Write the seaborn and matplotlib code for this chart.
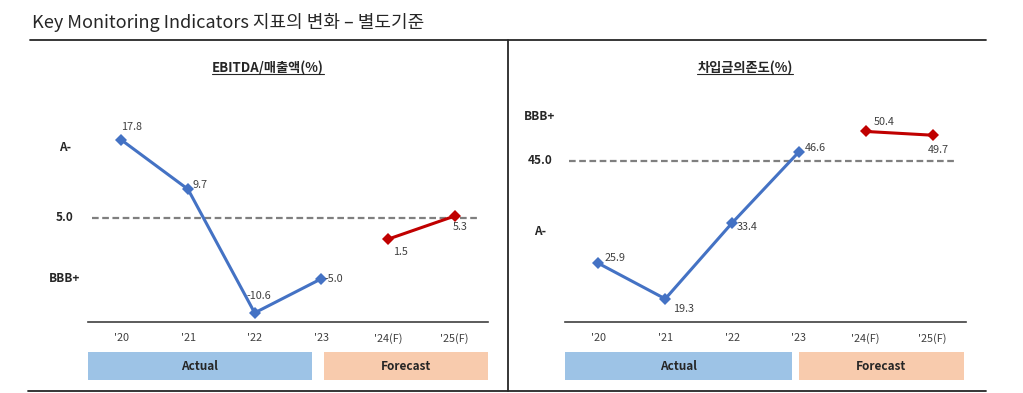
import numpy as np
import pandas as pd
import seaborn as sns
import matplotlib.pyplot as plt
from matplotlib.patches import Rectangle
from matplotlib.lines import Line2D
import matplotlib.transforms as mtransforms

sns.set_style("white")
plt.rcParams['font.family'] = ['Noto Sans CJK KR', 'DejaVu Sans']

# %%
years = ["'20", "'21", "'22", "'23", "'24(F)", "'25(F)"]
phase = ['Actual', 'Actual', 'Actual', 'Actual', 'Forecast', 'Forecast']

ebitda_margin = [17.8, 9.7, -10.6, -5.0, 1.5, 5.3]
ebitda_threshold = 5.0
ebitda_grades = ['A-', 'BBB+']
ebitda_grade_y = [16.5, -4.9]

debt_ratio = [25.9, 19.3, 33.4, 46.6, 50.4, 49.7]
debt_threshold = 45.0
debt_grades = ['BBB+', 'A-']
debt_grade_y = [53.1, 31.9]

# label offsets (points) for each value label
ebitda_offsets = [(7, 9), (9, 3), (3, 12), (9, 0), (9, -9), (4, -8)]
debt_offsets = [(12, 4), (13, -7), (11, -3), (12, 3), (13, 7), (4, -11)]

W, H = 1023, 393
fig = plt.figure(figsize=(W / 100, H / 100), dpi=100)


def px_axes(x0, y0, x1, y1):
    # axes from pixel box (top-left origin)
    return fig.add_axes([x0 / W, 1 - y1 / H, (x1 - x0) / W, (y1 - y0) / H])


pal = {'Actual': '#4472C4', 'Forecast': '#C00000'}


def draw_panel(ax, values, thr, grades, grade_y, offsets, ylim, title, title_x,
               grade_x, box_split):
    df = pd.DataFrame({'pos': np.arange(len(years)), 'value': values,
                       'phase': phase})
    sns.lineplot(data=df, x='pos', y='value', hue='phase', palette=pal,
                 marker='D', markersize=6, markeredgewidth=0, linewidth=2.2,
                 legend=False, ax=ax)
    ax.set_xlim(-0.5, 5.5)
    ax.set_ylim(*ylim)
    ax.axhline(thr, xmin=0.01, xmax=0.975, color='#7F7F7F', ls=(0, (3, 1.6)),
               lw=1.6, zorder=0)
    for i, (v, off) in enumerate(zip(values, offsets)):
        ax.annotate(f'{v:.1f}', (i, v), xytext=off, textcoords='offset points',
                    ha='center', va='center', fontsize=7.8, color='#404040')
    ax.set_xticks(range(len(years)))
    ax.set_xticklabels(years, fontsize=7.8, color='#404040')
    ax.tick_params(axis='x', length=0, pad=8)
    ax.set_yticks([])
    ax.set_xlabel('')
    ax.set_ylabel('')
    for s in ['top', 'left', 'right']:
        ax.spines[s].set_visible(False)
    ax.spines['bottom'].set_color('#404040')
    ax.spines['bottom'].set_linewidth(1.2)

    # rating labels on the left
    tr = mtransforms.blended_transform_factory(fig.transFigure, ax.transData)
    for g, gy in zip(grades, grade_y):
        ax.text(grade_x / W, gy, g, transform=tr, ha='center', va='center',
                fontsize=8.5, fontweight='bold', clip_on=False)
    ax.text(grade_x / W, thr, f'{thr:.1f}', transform=tr, ha='center',
            va='center', fontsize=8.5, fontweight='bold', clip_on=False)

    # Actual / Forecast boxes under the axis
    bt = mtransforms.blended_transform_factory(ax.transData, ax.transAxes)
    y0 = -(352 - 322) / 232
    hgt = -(380 - 352) / 232
    ax.add_patch(Rectangle((-0.5, y0), box_split[0] + 0.5, hgt, transform=bt,
                           facecolor='#9DC3E6', edgecolor='none', clip_on=False))
    ax.add_patch(Rectangle((box_split[1], y0), box_split[2] - box_split[1], hgt,
                           transform=bt, facecolor='#F8CBAD', edgecolor='none',
                           clip_on=False))
    ax.text((box_split[0] - 0.5) / 2, y0 + hgt / 2, 'Actual', transform=bt,
            ha='center', va='center', fontsize=8.5, fontweight='bold')
    ax.text((box_split[1] + box_split[2]) / 2, y0 + hgt / 2, 'Forecast',
            transform=bt, ha='center', va='center', fontsize=8.5,
            fontweight='bold')

    t = fig.text(title_x / W, 1 - 68 / H, title, ha='center', va='center',
                 fontsize=9.5, fontweight='bold', color='#262626')
    return t


ax1 = px_axes(88, 90, 488, 322)
t1 = draw_panel(ax1, ebitda_margin, ebitda_threshold, ebitda_grades,
                ebitda_grade_y, ebitda_offsets, (-12.1, 26.0),
                'EBITDA/매출액(%)', 268, 65, (2.86, 3.04, 5.5))

ax2 = px_axes(565, 90, 966, 322)
t2 = draw_panel(ax2, debt_ratio, debt_threshold, debt_grades, debt_grade_y,
                debt_offsets, (15.0, 58.1), '차입금의존도(%)', 745, 540,
                (2.89, 3.0, 5.47))

# main title and frame lines
fig.text(32 / W, 1 - 23 / H, 'Key Monitoring Indicators 지표의 변화 – 별도기준',
         ha='left', va='center', fontsize=13)
fig.add_artist(Line2D([30 / W, 986 / W], [1 - 40 / H] * 2, color='#262626', lw=1.3))
fig.add_artist(Line2D([28 / W, 986 / W], [1 - 391 / H] * 2, color='#262626', lw=1.3))
fig.add_artist(Line2D([508 / W] * 2, [1 - 40 / H, 1 - 391 / H], color='#262626', lw=1.3))

# underline subtitles
fig.canvas.draw()
for t in [t1, t2]:
    bb = t.get_window_extent().transformed(fig.transFigure.inverted())
    fig.add_artist(Line2D([bb.x0, bb.x1], [bb.y0 + 0.004] * 2, color='#262626', lw=0.8))

fig.savefig('out.png', dpi=100)
